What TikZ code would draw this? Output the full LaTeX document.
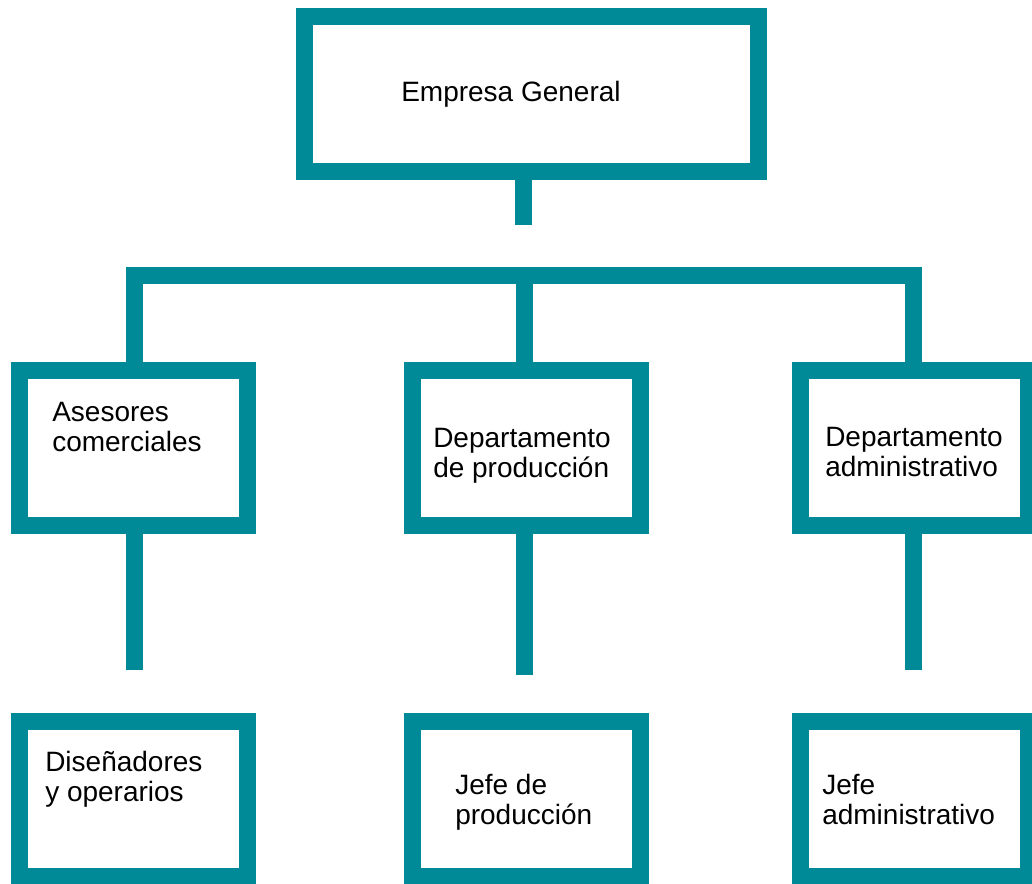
\documentclass[tikz,border=0pt]{standalone}
\usepackage{fontspec}
\setmainfont{Liberation Sans}
\usepackage{tikz}

\definecolor{orgteal}{HTML}{008A98}

\begin{document}
\begin{tikzpicture}[x=0.75pt,y=-0.75pt,
    unitbox/.style={draw=orgteal,line width=12.75pt,minimum width=171pt,minimum height=116.25pt,inner sep=0pt},
    topbox/.style={unitbox,minimum width=340.5pt},
    boxtext/.style={font=\fontsize{21}{22.5}\selectfont,align=left,anchor=base west,inner sep=0pt},
    link/.style={orgteal,line width=12.75pt,line cap=butt,line join=miter}]
    \useasboundingbox (0,0) rectangle (1032,884);
    \clip (0,0) rectangle (1032,884);
    % Boxes
    \node[topbox] (empresa) at (531,94) {};
    \node[unitbox] (asesores) at (133.5,448) {};
    \node[unitbox] (produccion) at (526.5,448) {};
    \node[unitbox] (administ) at (914.5,448) {};
    \node[unitbox] (disenadores) at (133.5,799) {};
    \node[unitbox] (jefeprod) at (526.5,799) {};
    \node[unitbox] (jefeadmin) at (914.5,799) {};
    % Texts (base = last line)
    \node[boxtext] (tempresa) at (401,102) {Empresa General};
    \node[boxtext] (tasesores) at (52,451) {Asesores\\comerciales};
    \node[boxtext] (tproduccion) at (433,477) {Departamento\\de producción};
    \node[boxtext] (tadminist) at (825,476) {Departamento\\administrativo};
    \node[boxtext] (tdisenadores) at (45,801) {Diseñadores\\y operarios};
    \node[boxtext] (tjefeprod) at (455,824) {Jefe de\\producción};
    \node[boxtext] (tjefeadmin) at (822,824) {Jefe\\administrativo};
    % Free ends of the connectors
    \coordinate (topstub) at (523.5,225);
    \coordinate (busleft) at (134,276);
    \coordinate (busmid) at (524,276);
    \coordinate (busright) at (913.5,276);
    \coordinate (stubleft) at (134,670);
    \coordinate (stubmid) at (524,675);
    \coordinate (stubright) at (913.5,670);
    % Connectors
    \draw[link] (topstub |- empresa.south) -- (topstub);
    \draw[link] (busleft |- asesores.north) -- (busleft) -- (busright) -- (busright |- administ.north);
    \draw[link] (busmid) -- (busmid |- produccion.north);
    \draw[link] (stubleft |- asesores.south) -- (stubleft);
    \draw[link] (stubmid |- produccion.south) -- (stubmid);
    \draw[link] (stubright |- administ.south) -- (stubright);
\end{tikzpicture}
\end{document}
